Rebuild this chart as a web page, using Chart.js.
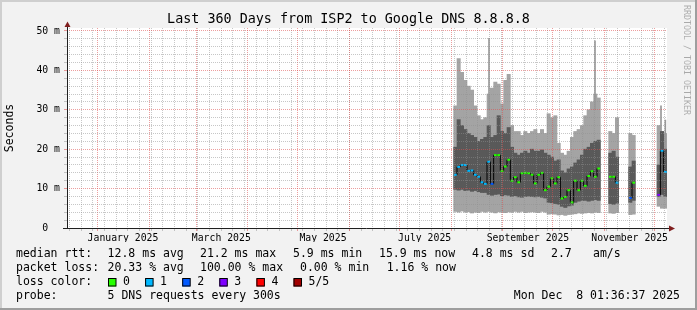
<!DOCTYPE html>
<html>
<head>
<meta charset="utf-8">
<script src="https://cdn.jsdelivr.net/npm/chart.js@4.4.1/dist/chart.umd.min.js"></script>
<style>
  html, body { margin: 0; padding: 0; background: #f2f2f2; }
  canvas { display: block; }
</style>
</head>
<body>
<canvas id="c" width="697" height="310"></canvas>
<script>
const TITLE = 'Last 360 Days from ISP2 to Google DNS 8.8.8.8';
const Y_TITLE = 'Seconds';
const WATERMARK = 'RRDTOOL / TOBI OETIKER';

// window start (360 days before Dec 8 2025), x axis is in days from here
const START_MS = Date.UTC(2024, 11, 13, 10, 0);
const SPAN_DAYS = 360;
const BIN_DAYS = 2;

const MONTH_LABELS = ['January 2025', 'March 2025', 'May 2025', 'July 2025', 'September 2025', 'November 2025'];
const MONTH_LABEL_IDX = [0, 2, 4, 6, 8, 10];
const Y_TICKS = [0, 2, 4, 6, 8, 10, 12, 14, 16, 18, 20, 22, 24, 26, 28, 30, 32, 34, 36, 38, 40, 42, 44, 46, 48, 50];

// bin centers, days since window start
const BIN_DAY = [
  233, 235, 237, 239, 241, 243, 245, 247, 249, 251, 253, 255, 257, 259, 261,
  263, 265, 267, 269, 271, 273, 275, 277, 279, 281, 283, 285, 287, 289, 291,
  293, 295, 297, 299, 301, 303, 305, 307, 309, 311, 313, 315, 317, 319,
  326, 328, 330,
  338, 340,
  355, 357, 359
];
// smoke: outer band (min..max ping) and inner band, ms
const OUTER_LO = [
  4.2, 4.0, 4.3, 4.0, 4.1, 3.8, 4.0, 3.9, 4.2, 4.0, 4.2, 4.0, 3.8, 4.1, 4.0,
  3.9, 4.1, 4.0, 4.2, 4.0, 4.2, 3.9, 4.0, 4.1, 4.0, 3.9, 4.2, 4.0, 3.5, 3.6,
  3.5, 3.3, 3.4, 3.2, 3.4, 3.5, 3.6, 3.8, 3.7, 3.8, 3.9, 3.8, 4.0, 3.9,
  3.8, 3.7, 3.9,
  3.4, 3.5,
  5.5, 5.0, 5.0
];
const INNER_LO = [
  9.8, 9.6, 9.8, 9.5, 9.6, 9.3, 9.5, 9.2, 9.0, 9.0, 8.5, 8.3, 8.5, 8.6, 8.2,
  8.4, 8.3, 8.0, 8.2, 7.9, 7.8, 8.0, 8.1, 8.0, 7.9, 8.0, 7.8, 7.6, 6.5, 6.4,
  6.2, 6.0, 5.5, 5.2, 5.6, 5.8, 6.5, 6.8, 7.0, 7.0, 6.8, 7.0, 7.2, 7.0,
  6.2, 6.0, 6.3,
  6.5, 7.0,
  8.0, 8.5, 8.0
];
const INNER_HI = [
  20.5, 27.5, 26, 25, 24, 23.5, 23, 22, 22.5, 23, 26, 23, 23.5, 28.5, 24.5,
  24, 25.5, 20.5, 19, 18.5, 19, 19.5, 19, 20, 19.5, 19.5, 19.8, 19, 18.5, 18,
  17, 17.3, 14.5, 14, 15, 15.5, 16.5, 17.3, 18.5, 20, 20.5, 21.5, 22, 22.3,
  19, 19.5, 18,
  15.5, 17,
  16, 24.5, 20
];
const OUTER_HI = [
  31, 43, 39.5, 37.5, 36, 35, 31, 28.5, 27.5, 28, 34, 35.5, 37, 36.5, 31.5,
  37.5, 39, 26, 24.5, 24.5, 23.5, 24.5, 24, 24.5, 25, 24, 25, 24, 29, 28,
  28.5, 21.5, 19, 18.5, 19.5, 23, 24.5, 25, 26, 28.5, 30, 32, 34, 33,
  24.5, 24, 28,
  24, 23.5,
  26, 24.5, 24
];
// median rtt, ms, and lost pings out of 5
const MEDIAN = [
  13.5, 15.5, 16, 16, 14.5, 14.6, 13.5, 13, 11.6, 11.2, 16.8, 11.2, 18.5, 18.5, 14.5,
  15.6, 17.3, 12, 12.9, 11.6, 13.9, 14, 13.9, 13.5, 11.3, 13.5, 14, 9.6, 10.5, 12.6,
  11.3, 12.9, 7.5, 7.9, 9.6, 6.5, 12, 9.6, 12, 10.7, 13.2, 14.4, 13, 15.1,
  13.0, 13.0, 11.5,
  7.6, 11.5,
  8.4, 19.6, 14.2
];
const LOSS = [
  1, 1, 1, 1, 1, 1, 1, 1, 1, 1, 1, 2, 0, 0, 0,
  0, 0, 0, 0, 0, 0, 0, 0, 0, 0, 0, 0, 0, 0, 0,
  0, 0, 0, 0, 0, 0, 0, 0, 0, 0, 0, 0, 0, 0,
  0, 0, 1,
  2, 0,
  3, 1, 1
];
// single tall max readings
const SPIKE_DAY = [253.2, 316.8, 356.4, 359.0];
const SPIKE_LO = [30, 30, 20, 20];
const SPIKE_HI = [48.1, 47.5, 31, 27.4];

const LOSS_COLORS = ['#26ff00', '#00b8ff', '#0059ff', '#7e00ff', '#ff0000', '#a10000'];
const LOSS_NAMES = ['0', '1', '2', '3', '4', '5/5'];

const LEGEND_ROWS = [
  { y: 254.5, items: [[16, 'median rtt:'], [107.6, '12.8 ms avg'], [200, '21.2 ms max'], [293, '5.9 ms min'], [379, '15.9 ms now'], [472, '4.8 ms sd'], [551, '2.7'], [593, 'am/s']] },
  { y: 268.5, items: [[16, 'packet loss:'], [107.6, '20.33 % avg'], [200, '100.00 % max'], [300, '0.00 % min'], [386.7, '1.16 % now']] },
  { y: 282.5, items: [[16, 'loss color:']] },
  { y: 296.5, items: [[16, 'probe:'], [107.6, '5 DNS requests every 300s']] }
];
const STAMP = 'Mon Dec  8 01:36:37 2025';

const BACK = '#f2f2f2', SHADE_A = '#cfcfcf', SHADE_B = '#9e9e9e';
const GRID = 'rgba(143,143,143,0.5)', MGRID = 'rgba(222,79,79,0.55)';
const AXIS = '#1f1f1f', ARROW = '#801f1f';
const MONO = '"DejaVu Sans Mono", monospace';
const PLOT_W = 600;

function dayOf(y, m, d) { return (Date.UTC(y, m, d) - START_MS) / 864e5; }

// x ticks: weekly (sunday) minor grid, month-start major grid, month labels
const xTicks = [];
for (let k = 0; ; k++) {
  const d = dayOf(2024, 11, 15 + 7 * k);
  if (d > SPAN_DAYS) break;
  xTicks.push({ value: d, kind: 'week', name: '' });
}
for (let m = 0; m < 12; m++) xTicks.push({ value: dayOf(2025, m, 1), kind: 'month', name: '' });
MONTH_LABELS.forEach((t, i) => xTicks.push({ value: dayOf(2025, MONTH_LABEL_IDX[i], 16), kind: 'label', name: t }));
xTicks.sort((a, b) => a.value - b.value);

function band(lo, hi) { return BIN_DAY.map((d, i) => ({ x: d, y: [lo[i], hi[i]] })); }

const medianPts = [], medianCols = [];
BIN_DAY.forEach((d, i) => {
  if (i > 0 && d - BIN_DAY[i - 1] > BIN_DAYS + 0.01) { medianPts.push({ x: d - 1, y: null }); medianCols.push('#000'); }
  medianPts.push({ x: d, y: MEDIAN[i] });
  medianCols.push(LOSS_COLORS[LOSS[i]]);
});

const binPx = BIN_DAYS * PLOT_W / SPAN_DAYS;

const rrdLook = {
  id: 'rrdLook',
  beforeDraw(chart) {
    const { ctx, chartArea: a } = chart;
    const W = chart.width, H = chart.height;
    ctx.save();
    ctx.fillStyle = BACK;
    ctx.fillRect(0, 0, W, H);
    ctx.fillStyle = SHADE_A;
    ctx.fillRect(0, 0, W, 2);
    ctx.fillRect(0, 0, 2, H);
    ctx.fillStyle = SHADE_B;
    ctx.fillRect(0, H - 2, W, 2);
    ctx.fillRect(W - 2, 0, 2, H);
    ctx.fillStyle = '#ffffff';
    ctx.fillRect(a.left, a.top, a.right - a.left, a.bottom - a.top);
    ctx.restore();
  },
  afterDraw(chart) {
    const { ctx, chartArea: a } = chart;
    ctx.save();
    // axes
    ctx.strokeStyle = AXIS;
    ctx.lineWidth = 1;
    ctx.beginPath();
    ctx.moveTo(a.left + 0.5, a.bottom + 1);
    ctx.lineTo(a.left + 0.5, a.top - 3);
    ctx.moveTo(a.left - 4, a.bottom + 0.5);
    ctx.lineTo(a.right + 3, a.bottom + 0.5);
    ctx.stroke();
    ctx.fillStyle = ARROW;
    ctx.beginPath();
    ctx.moveTo(a.left + 0.5, a.top - 6.5);
    ctx.lineTo(a.left + 3.5, a.top - 1);
    ctx.lineTo(a.left - 2.5, a.top - 1);
    ctx.closePath();
    ctx.fill();
    ctx.beginPath();
    ctx.moveTo(a.right + 8, a.bottom + 0.5);
    ctx.lineTo(a.right + 2, a.bottom - 2.5);
    ctx.lineTo(a.right + 2, a.bottom + 3.5);
    ctx.closePath();
    ctx.fill();

    // title
    ctx.fillStyle = '#000';
    ctx.textBaseline = 'middle';
    ctx.textAlign = 'center';
    ctx.font = '13.4px ' + MONO;
    ctx.fillText(TITLE, chart.width / 2, 19.5);

    // legend
    ctx.textAlign = 'left';
    ctx.font = '11.5px ' + MONO;
    LEGEND_ROWS.forEach(r => r.items.forEach(([x, t]) => ctx.fillText(t, x, r.y)));
    LOSS_NAMES.forEach((t, i) => {
      const bx = 108 + i * 37.1;
      ctx.fillStyle = LOSS_COLORS[i];
      ctx.fillRect(bx, 278.5, 8, 8);
      ctx.strokeStyle = '#000';
      ctx.strokeRect(bx + 0.5, 278.5, 7.5, 7.5);
      ctx.fillStyle = '#000';
      ctx.fillText(t, bx + 15, 282.5);
    });
    ctx.textAlign = 'right';
    ctx.fillText(STAMP, 680, 296.5);

    // watermark
    ctx.translate(686.5, 5);
    ctx.rotate(Math.PI / 2);
    ctx.textAlign = 'left';
    ctx.font = '8.3px ' + MONO;
    ctx.fillStyle = 'rgba(0,0,0,0.3)';
    ctx.fillText(WATERMARK, 0, 0);
    ctx.restore();
  }
};

new Chart(document.getElementById('c'), {
  type: 'bar',
  data: {
    datasets: [
      {
        type: 'line', label: 'median', order: 0,
        data: medianPts,
        borderColor: '#000', borderWidth: 1, stepped: 'middle', spanGaps: false,
        pointStyle: 'line', pointRadius: 1.4, pointBorderWidth: 2,
        pointBorderColor: medianCols, pointBackgroundColor: medianCols
      },
      {
        label: 'inner', order: 1, data: band(INNER_LO, INNER_HI),
        backgroundColor: '#595959', borderWidth: 0, grouped: false, barThickness: binPx
      },
      {
        label: 'spike', order: 2,
        data: SPIKE_DAY.map((d, i) => ({ x: d, y: [SPIKE_LO[i], SPIKE_HI[i]] })),
        backgroundColor: '#999999', borderWidth: 0, grouped: false, barThickness: 1
      },
      {
        label: 'outer', order: 3, data: band(OUTER_LO, OUTER_HI),
        backgroundColor: '#a4a4a4', borderWidth: 0, grouped: false, barThickness: binPx
      }
    ]
  },
  options: {
    responsive: false,
    devicePixelRatio: 1,
    animation: false,
    events: [],
    layout: { padding: { left: 0, top: 28, right: 30, bottom: 68 } },
    plugins: { legend: { display: false }, tooltip: { enabled: false } },
    scales: {
      x: {
        type: 'linear', min: 0, max: SPAN_DAYS, offset: false,
        afterFit: s => { s.height = 14; },
        afterBuildTicks: s => { s.ticks = xTicks.map(t => ({ ...t })); },
        ticks: {
          autoSkip: false, maxRotation: 0, minRotation: 0, padding: 2,
          color: '#000', font: { family: MONO, size: 9.8 },
          callback: (v, i, ticks) => ticks[i].name
        },
        grid: {
          z: 1, offset: false, tickLength: 3,
          color: c => (c.tick && c.tick.kind === 'month') ? MGRID : GRID,
          lineWidth: c => (c.tick && c.tick.kind === 'label') ? 0 : 1
        },
        border: { display: false, dash: [1, 1] }
      },
      y: {
        min: 0, max: 50.75,
        afterFit: s => { s.width = 67; },
        afterBuildTicks: s => { s.ticks = Y_TICKS.map(v => ({ value: v })); },
        ticks: {
          autoSkip: false, padding: 4, color: '#000', font: { family: MONO, size: 9.8 },
          callback: v => v % 10 === 0 ? (v === 0 ? '0  ' : v + ' m') : ''
        },
        grid: {
          z: 1, tickLength: 3,
          color: c => (c.tick && c.tick.value % 10 === 0) ? MGRID : GRID,
          lineWidth: c => (c.tick && c.tick.value === 0) ? 0 : 1
        },
        border: { display: false, dash: [1, 1] },
        title: { display: true, text: Y_TITLE, color: '#000', font: { family: MONO, size: 11.5 }, padding: { top: 3, bottom: 0 } }
      }
    }
  },
  plugins: [rrdLook]
});
</script>
</body>
</html>
